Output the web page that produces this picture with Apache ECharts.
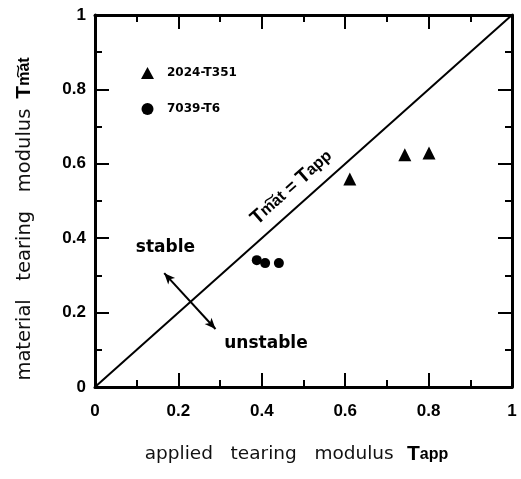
<!DOCTYPE html>
<html><head><meta charset="utf-8">
<script src="https://cdn.jsdelivr.net/npm/echarts@6/dist/echarts.min.js"></script>
<style>html,body{margin:0;padding:0;background:#fff}#c{width:521px;height:479px}</style>
</head><body><div id="c"></div>
<script>
// ---- data ----
const seriesNames = ['2024-T351', '7039-T6'];
const alloy2024T351 = [[0.611, 0.559], [0.743, 0.624], [0.801, 0.629]];
const alloy7039T6 = [[0.388, 0.341], [0.408, 0.333], [0.441, 0.333]];
const equalityLine = [[0, 0], [1, 1]];
const stabilityArrow = [[0.166, 0.306], [0.289, 0.156]];
const annotationTexts = ['stable', 'unstable'];
const annotationAt = [[0.098, 0.374], [0.31, 0.118]];
const axisMin = 0, axisMax = 1, axisStep = 0.2;

const chart = echarts.init(document.getElementById('c'), null, {renderer: 'canvas'});
const BOLD = 'Liberation Sans';
const tickLabel = {fontFamily: BOLD, fontWeight: 'bold', fontSize: 17, color: '#000'};
const fmt = v => (v === 0 ? '0' : v === 1 ? '1' : v.toFixed(1));

function frameAxis(extra) {
  return Object.assign({
    type: 'value', min: axisMin, max: axisMax, interval: axisStep,
    axisLine: {show: true, onZero: false, lineStyle: {color: '#000', width: 3}},
    axisTick: {show: true, inside: true, length: 14, lineStyle: {color: '#000', width: 2}},
    minorTick: {show: true, splitNumber: 2, length: 7, lineStyle: {color: '#000', width: 2}},
    splitLine: {show: false}
  }, extra);
}

const nameRich = {
  n: {fontFamily: 'DejaVu Sans', fontSize: 18.5, color: '#111'},
  T: {fontFamily: BOLD, fontWeight: 'bold', fontSize: 21, color: '#000'},
  s: {fontFamily: BOLD, fontWeight: 'bold', fontSize: 16, color: '#000'}
};

const option = {
  animation: false,
  backgroundColor: '#fff',
  grid: {left: 95, right: 9, top: 15, bottom: 92},
  legend: {
    orient: 'vertical', left: 136, top: 62, itemWidth: 13, itemHeight: 12, itemGap: 24,
    textStyle: {fontFamily: 'DejaVu Sans', fontWeight: 'bold', fontSize: 12, color: '#000', padding: [0, 0, 0, 8]},
    data: [{name: seriesNames[0], icon: 'triangle'}, {name: seriesNames[1], icon: 'circle'}]
  },
  xAxis: [
    frameAxis({
      position: 'bottom',
      axisLabel: Object.assign({margin: 16, formatter: fmt}, tickLabel),
      name: '{n|applied   tearing   modulus}    {T|T}{s|app}',
      nameLocation: 'middle', nameGap: 57,
      nameTextStyle: {rich: nameRich, padding: [0, 14, 0, 0]}
    }),
    frameAxis({position: 'top', axisLabel: {show: false}})
  ],
  yAxis: [
    frameAxis({
      position: 'left',
      axisLabel: Object.assign({margin: 9, formatter: fmt}, tickLabel),
      name: '{n|material   tearing   modulus}   {T|T}{s|m\u0360at}',
      nameLocation: 'middle', nameGap: 60, nameRotate: 90,
      nameTextStyle: {rich: Object.assign({}, nameRich, {n: {fontFamily: 'DejaVu Sans', fontSize: 19.5, color: '#111'}}), padding: [0, 36, 0, 0]}
    }),
    frameAxis({position: 'right', axisLabel: {show: false}})
  ],
  series: [
    {
      name: seriesNames[0], type: 'scatter', symbol: 'triangle', symbolSize: 13,
      itemStyle: {color: '#000', opacity: 1}, data: alloy2024T351,
      markLine: {
        silent: true, symbol: ['none', 'none'],
        lineStyle: {color: '#000', width: 2, type: 'solid'},
        label: {
          show: true, position: 'insideMiddleTop', distance: 8,
          formatter: '{T|T}{s|m\u0360at}{e| = }{T|T}{s|app}',
          rich: {
            T: {fontFamily: BOLD, fontWeight: 'bold', fontSize: 20, color: '#000'},
            s: {fontFamily: BOLD, fontWeight: 'bold', fontSize: 16, color: '#000'},
            e: {fontFamily: BOLD, fontWeight: 'bold', fontSize: 18, color: '#000'}
          }
        },
        data: [[{coord: equalityLine[0]}, {coord: equalityLine[1]}]]
      }
    },
    {
      name: seriesNames[1], type: 'scatter', symbol: 'circle', symbolSize: 10,
      itemStyle: {color: '#000', opacity: 1}, data: alloy7039T6,
      markLine: {
        silent: true, symbol: ['arrow', 'arrow'], symbolSize: [7, 11],
        lineStyle: {color: '#000', width: 2, type: 'solid'},
        label: {show: false},
        data: [[{coord: stabilityArrow[0]}, {coord: stabilityArrow[1]}]]
      },
      markPoint: {
        silent: true, symbol: 'circle', symbolSize: 0,
        label: {show: true, position: 'right', distance: 0, fontFamily: 'DejaVu Sans', fontWeight: 'bold', fontSize: 17, color: '#000'},
        data: annotationTexts.map((t, i) => ({coord: annotationAt[i], value: t, label: {formatter: t}}))
      }
    }
  ]
};
chart.setOption(option);
</script>
</body></html>
